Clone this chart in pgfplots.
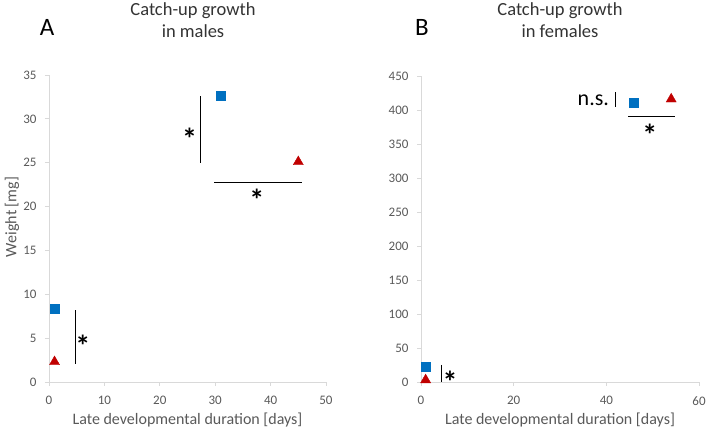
\documentclass[border=0pt]{standalone}
\usepackage{pgfplots}
\pgfplotsset{compat=1.18}
\usepackage{fontspec}
\setmainfont{Carlito}

\definecolor{sqblue}{RGB}{0,112,192}
\definecolor{trired}{RGB}{192,0,0}
\definecolor{axgray}{RGB}{217,217,217}
\definecolor{txtgray}{RGB}{89,89,89}

\pgfplotsset{
  panel/.style={
    scale only axis,
    axis x line=bottom, axis y line=left,
    axis line style={axgray, -, line width=0.8pt},
    tick style={axgray, line width=0.8pt},
    tick align=outside, major tick length=4pt,
    ticklabel style={font=\fontsize{13}{15}\selectfont, text=txtgray},
    xticklabel style={yshift=-7pt},
    yticklabel style={xshift=-5pt},
    /pgf/number format/assume math mode=true,
    xlabel style={font=\fontsize{16}{18}\selectfont, text=txtgray, yshift=-1pt},
    clip=false,
  },
  sq/.style={only marks, mark=square*, mark size=4.5pt, color=sqblue},
  tri/.style={only marks, mark=triangle*, mark size=5.8pt, color=trired},
}
\newcommand{\sigstar}{\fontsize{30}{30}\selectfont\bfseries *}

\begin{document}
\begin{tikzpicture}[x=1pt,y=1pt]
  \useasboundingbox (0,0) rectangle (707,431);

  % panel A: males
  \begin{axis}[panel, at={(49pt,49pt)}, anchor=south west,
      width=277pt, height=307pt,
      xmin=0, xmax=50, ymin=0, ymax=35,
      xtick={0,10,...,50}, ytick={0,5,...,35},
      xlabel={Late developmental duration [days]}]
    \addplot[sq] coordinates {(1,8.3) (31,32.6)};
    \addplot[tri] coordinates {(1,2.3) (45,25.1)};
    \draw[line width=0.9pt] (axis cs:27.4,32.6) -- (axis cs:27.4,25.0);
    \draw[line width=0.9pt] (axis cs:29.8,22.7) -- (axis cs:45.7,22.7);
    \draw[line width=0.9pt] (axis cs:4.7,8.2) -- (axis cs:4.7,2.05);
    \node at (axis cs:25.4,27.7) {\sigstar};
    \node at (axis cs:37.5,20.75) {\sigstar};
    \node at (axis cs:6.1,4.1) {\sigstar};
  \end{axis}

  % panel B: females
  \begin{axis}[panel, at={(421pt,49pt)}, anchor=south west,
      width=278pt, height=306pt,
      xmin=0, xmax=60, ymin=0, ymax=450,
      xtick={0,20,...,60}, ytick={0,50,...,450},
      xlabel={Late developmental duration [days]}]
    \addplot[sq] coordinates {(1,22) (46,410)};
    \addplot[tri] coordinates {(1,3) (54,416)};
    \draw[line width=0.9pt] (axis cs:41.9,426) -- (axis cs:41.9,404);
    \draw[line width=0.9pt] (axis cs:44.7,390.5) -- (axis cs:54.8,390.5);
    \draw[line width=0.9pt] (axis cs:4.5,25) -- (axis cs:4.5,0);
    \node[font=\fontsize{22}{24}\selectfont] at (axis cs:37.2,414) {n.s.};
    \node at (axis cs:49.4,363) {\sigstar};
    \node at (axis cs:6.3,0) {\sigstar};
  \end{axis}

  % titles, panel letters, y label
  \node[align=center, font=\fontsize{18.5}{21.5}\selectfont, text=black!80]
    at (193,411) {Catch-up growth\\in males};
  \node[align=center, font=\fontsize{18.5}{21.5}\selectfont, text=black!80]
    at (560,411) {Catch-up growth\\in females};
  \node[font=\fontsize{25}{25}\selectfont] at (47,404) {A};
  \node[font=\fontsize{25}{25}\selectfont] at (422,404) {B};
  \node[rotate=90, font=\fontsize{16}{18}\selectfont, text=txtgray]
    at (12,214) {Weight [mg]};
\end{tikzpicture}
\end{document}
